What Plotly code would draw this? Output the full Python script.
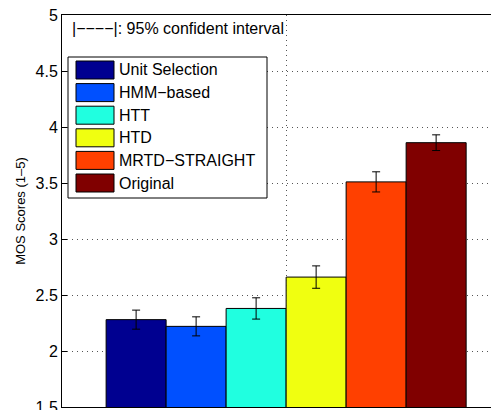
import plotly.graph_objects as go

# ---- data ----
systems = ["Unit Selection", "HMM−based", "HTT", "HTD", "MRTD−STRAIGHT", "Original"]
mos = [2.28, 2.22, 2.38, 2.66, 3.51, 3.86]
ci95 = [0.085, 0.085, 0.095, 0.10, 0.09, 0.07]
colors = ["#000090", "#0050FF", "#20FFE0", "#F0FF10", "#FF4000", "#800000"]
y_ticks = [1.5, 2, 2.5, 3, 3.5, 4, 4.5, 5]

# page body has an 8px default margin, so the figure starts at (8, 8)
OFF = 8
W, H = 499 - OFF, 410 - OFF
L, R, T, B = 62 - OFF, 0, 15 - OFF, 3
FONT = "Liberation Sans, Arial, Helvetica, sans-serif"

fig = go.Figure()
for name, v, e, c in zip(systems, mos, ci95, colors):
    fig.add_trace(go.Bar(
        x=["1"], y=[v], name=name,
        marker=dict(color=c, line=dict(color="black", width=1)),
        error_y=dict(type="data", array=[e], visible=True, color="black", thickness=1, width=4),
        showlegend=False,
    ))

pw, ph = W - L - R, H - T - B
def px(x):  # window pixel -> paper
    return (x - OFF - L) / pw
def py(y):
    return 1 - (y - OFF - T) / ph

shapes = []
annotations = []
# legend box
shapes.append(dict(type="rect", xref="paper", yref="paper",
                   x0=px(68), x1=px(267), y0=py(198), y1=py(57),
                   line=dict(color="black", width=1), fillcolor="white", layer="above"))
for i, (name, c) in enumerate(zip(systems, colors)):
    cy = 70 + 22.6 * i
    shapes.append(dict(type="rect", xref="paper", yref="paper",
                       x0=px(76), x1=px(114), y0=py(cy + 9), y1=py(cy - 9),
                       line=dict(color="black", width=1), fillcolor=c, layer="above"))
    annotations.append(dict(xref="paper", yref="paper", x=px(117), y=py(cy),
                            text=name, showarrow=False, xanchor="left", yanchor="middle",
                            font=dict(family=FONT, size=16, color="black")))
annotations.append(dict(xref="paper", yref="paper", x=px(70), y=py(29),
                        text="|−−−−|: 95% confident interval", showarrow=False,
                        xanchor="left", yanchor="middle",
                        font=dict(family=FONT, size=16, color="black")))

GRID_DASH = "1px,4px"
fig.update_layout(
    width=W, height=H,
    margin=dict(l=L, r=R, t=T, b=B, pad=0),
    paper_bgcolor="white", plot_bgcolor="white",
    barmode="group", bargap=0.2, bargroupgap=0,
    font=dict(family=FONT, size=16, color="black"),
    shapes=shapes, annotations=annotations,
    showlegend=False,
    xaxis=dict(type="category", range=[-0.498, 0.473], showticklabels=False,
               showgrid=True, gridcolor="#555", griddash=GRID_DASH, gridwidth=1,
               showline=True, linecolor="black", linewidth=1, mirror=True,
               ticks="", zeroline=False, automargin=False),
    yaxis=dict(range=[1.5, 5], tickvals=y_ticks, ticks="inside", ticklen=5,
               tickcolor="black", showgrid=True, gridcolor="#555", griddash=GRID_DASH,
               gridwidth=1, showline=True, linecolor="black", linewidth=1,
               zeroline=False, tickfont=dict(size=16), automargin=False,
               ticklabeloverflow="allow",
               title=dict(text="MOS Scores (1–5)", font=dict(size=13), standoff=6)),
)

fig.write_html("out.html")
